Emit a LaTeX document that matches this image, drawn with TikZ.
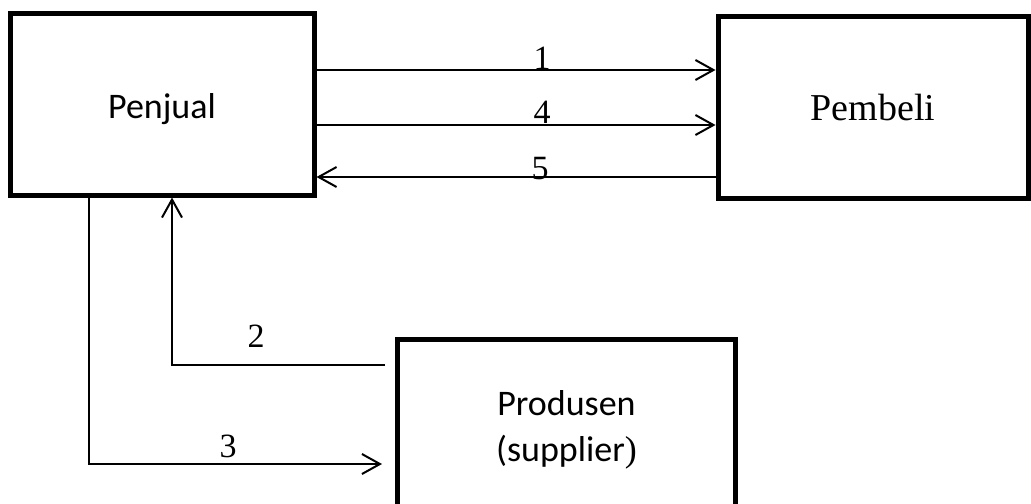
\documentclass[tikz,border=0pt]{standalone}
\usepackage{fontspec}
\setmainfont{Liberation Serif}
\newfontfamily\calibri{Carlito}
\usetikzlibrary{arrows.meta}

\begin{document}
\begin{tikzpicture}[x=0.5pt, y=-0.5pt,
    box/.style={draw, line width=2.5pt, rectangle, inner sep=0pt, minimum height=91pt},
    flow/.style={line width=1pt, -{Straight Barb[length=9pt, width=10pt, line width=1pt]}},
    num/.style={font=\fontsize{17}{20}\selectfont, anchor=base}]
  \clip (0,0) rectangle (1031,503);

  % Penjual
  \node[box, minimum width=152pt, text height=14pt, text depth=0pt, font=\calibri\fontsize{18}{22}\selectfont] (penjual) at (162,104) {Penjual};

  % Pembeli
  \node[box, minimum width=155pt, font=\fontsize{19}{22}\selectfont] (pembeli) at (873,107.5) {Pembeli};

  % Produsen
  \node[box, minimum width=169pt, align=center, font=\calibri\fontsize{18}{23}\selectfont] (produsen) at (566.5,430) {Produsen\\(supplier{\rmfamily)}};

  % Arrows
  \draw[flow] (penjual.east |- 0,70) -- (pembeli.west |- 0,70);
  \draw[flow] (penjual.east |- 0,125) -- (pembeli.west |- 0,125);
  \draw[flow] (pembeli.west |- 0,177) -- (penjual.east |- 0,177);
  \draw[flow] ([xshift=-5pt]produsen.west |- 0,365) -| ([xshift=5pt]penjual.south);
  \draw[flow] (penjual.south -| 89,0) |- ([xshift=-6.5pt]produsen.west |- 0,464);

  % Labels
  \node[num] (n1) at (542,69) {1};
  \node[num] (n4) at (542,123) {4};
  \node[num] (n5) at (540,179) {5};
  \node[num] (n2) at (256,347) {2};
  \node[num] (n3) at (228,457) {3};
\end{tikzpicture}
\end{document}
